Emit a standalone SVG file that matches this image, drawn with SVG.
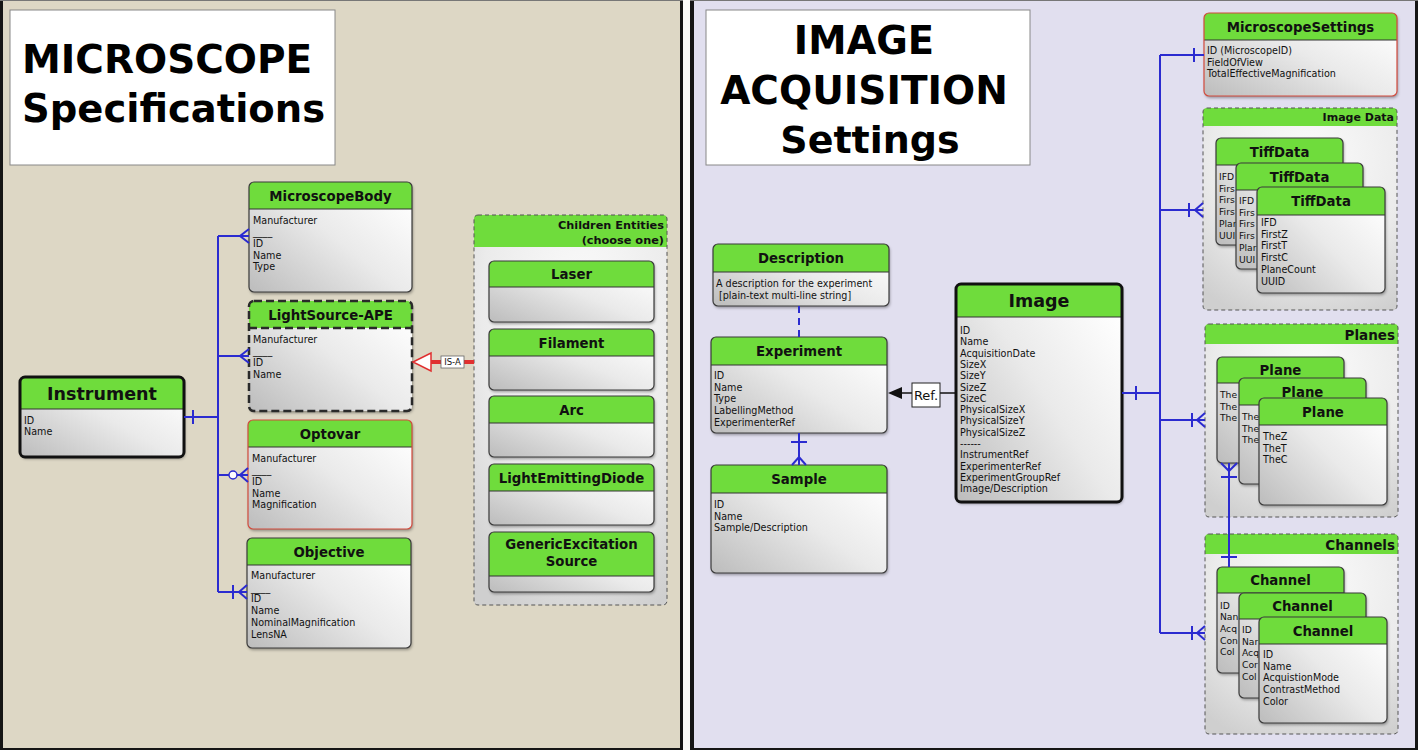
<svg xmlns="http://www.w3.org/2000/svg" width="1418" height="750" viewBox="0 0 1418 750">
<defs>
<linearGradient id="gBody" x1="0" y1="1" x2="1" y2="0.15">
<stop offset="0" stop-color="#bcbcbc"/><stop offset="0.55" stop-color="#eaeaea"/><stop offset="1" stop-color="#ffffff"/>
</linearGradient>
<radialGradient id="gGroup" cx="0.55" cy="0.25" r="0.85">
<stop offset="0" stop-color="#fbfbfb"/><stop offset="0.6" stop-color="#ebebeb"/><stop offset="1" stop-color="#cfcfcf"/>
</radialGradient>
<filter id="sh" x="-10%" y="-10%" width="125%" height="125%">
<feDropShadow dx="1" dy="2" stdDeviation="1.5" flood-color="#000" flood-opacity="0.35"/>
</filter>
<clipPath id="cTD1"><rect x="1216" y="165" width="20" height="80"/></clipPath>
<clipPath id="cTD2"><rect x="1236" y="190" width="21" height="80"/></clipPath>
<clipPath id="cPL1"><rect x="1217" y="383" width="22" height="80"/></clipPath>
<clipPath id="cPL2"><rect x="1239" y="405" width="20" height="80"/></clipPath>
<clipPath id="cCH1"><rect x="1217" y="593" width="22" height="80"/></clipPath>
<clipPath id="cCH2"><rect x="1239" y="619" width="20" height="80"/></clipPath>
</defs>
<style>
.nb{fill:url(#gBody);filter:url(#sh)}
.hdr{fill:#6fdc3c}
.sep{stroke:#333;stroke-width:1}
.bd{fill:none;stroke:#3a3a3a;stroke-width:1.2}
.thick{stroke:#111;stroke-width:3}
.red{stroke:#d24a3c}
.dash{stroke:#2a2a2a;stroke-width:2.5;stroke-dasharray:8 4}
.t{font-family:"DejaVu Sans",sans-serif;font-weight:bold;font-size:13.3px;text-anchor:middle;fill:#111}
.big{font-size:17.5px}
.f{font-family:"DejaVu Sans",sans-serif;font-size:9.6px;fill:#111}
.fs{font-family:"DejaVu Sans",sans-serif;font-size:9.2px;fill:#111}
.gb{fill:url(#gGroup);stroke:none}
.gbd{fill:none;stroke:#555;stroke-width:1;stroke-dasharray:4 3}
.gt{font-family:"DejaVu Sans",sans-serif;font-weight:bold;text-anchor:end;fill:#111}
.title{font-family:"DejaVu Sans",sans-serif;font-weight:bold;fill:#000}
.conn{stroke:#2b2bd0;stroke-width:2;fill:none}
.edge{stroke:#151515;fill:none}
</style>

<rect x="0" y="0" width="1418" height="750" fill="#fbfbf8"/>
<rect x="0" y="0" width="683" height="750" fill="#ddd7c5"/>
<rect x="690" y="0" width="728" height="750" fill="#e1dfef"/>
<path class="edge" stroke-width="3" d="M1.5,0V750M681.5,0V750M1416.5,0V750"/>
<path class="edge" stroke-width="4" d="M692,0V750"/>
<path class="edge" stroke-width="2" d="M0,749H683M690,749H1418"/>
<path stroke="#777" stroke-width="1" d="M0,0.5H683M690,0.5H1418"/>

<g id="title-left">
<rect x="10" y="10" width="325" height="155" fill="#fff" stroke="#888" stroke-width="1"/>
<text class="title" x="22" y="73" font-size="39">MICROSCOPE</text>
<text class="title" x="22" y="122" font-size="38.5">Specifications</text>
</g>
<g id="title-right">
<rect x="706" y="10" width="324" height="155" fill="#fff" stroke="#888" stroke-width="1"/>
<text class="title" x="864" y="54" font-size="38.5" text-anchor="middle">IMAGE</text>
<text class="title" x="864" y="104" font-size="39" text-anchor="middle">ACQUISITION</text>
<text class="title" x="870" y="153" font-size="38" text-anchor="middle">Settings</text>
</g>

<!-- LEFT NODES -->
<g id="instrument">
<rect class="nb" x="20" y="377" width="164" height="80" rx="5"/>
<path class="hdr" d="M20,409V382a5,5 0 0 1 5,-5H179a5,5 0 0 1 5,5V409Z"/>
<line class="sep" x1="20" y1="409" x2="184" y2="409" stroke-width="2.5" stroke="#111"/>
<rect class="bd thick" x="20" y="377" width="164" height="80" rx="5"/>
<text class="t big" x="102" y="399.5">Instrument</text>
<text class="f" x="24" y="423.5">ID</text>
<text class="f" x="24" y="435">Name</text>
</g>

<g id="microscopebody">
<rect class="nb" x="249" y="182" width="163" height="110" rx="5"/>
<path class="hdr" d="M249,209V187a5,5 0 0 1 5,-5H407a5,5 0 0 1 5,5V209Z"/>
<line class="sep" x1="249" y1="209" x2="412" y2="209"/>
<rect class="bd" x="249" y="182" width="163" height="110" rx="5"/>
<text class="t" x="330.5" y="201">MicroscopeBody</text>
<text class="f" x="253" y="223.5">Manufacturer</text>
<text class="f" x="253" y="235.2">____</text>
<text class="f" x="253" y="246.9">ID</text>
<text class="f" x="253" y="258.6">Name</text>
<text class="f" x="253" y="270.3">Type</text>
</g>

<g id="lightsource-ape">
<rect class="nb" x="249" y="301" width="163" height="110" rx="5"/>
<path class="hdr" d="M249,328V306a5,5 0 0 1 5,-5H407a5,5 0 0 1 5,5V328Z"/>
<line class="dash" x1="249" y1="328" x2="412" y2="328"/>
<rect class="bd dash" x="249" y="301" width="163" height="110" rx="5"/>
<text class="t" x="330.5" y="319.5">LightSource-APE</text>
<text class="f" x="253" y="342.5">Manufacturer</text>
<text class="f" x="253" y="354.2">____</text>
<text class="f" x="253" y="365.9">ID</text>
<text class="f" x="253" y="377.6">Name</text>
</g>

<g id="optovar">
<rect class="nb" x="248" y="420" width="164" height="109" rx="5"/>
<path class="hdr" d="M248,447V425a5,5 0 0 1 5,-5H407a5,5 0 0 1 5,5V447Z"/>
<line class="sep" x1="248" y1="447" x2="412" y2="447" stroke="#b0503a"/>
<rect class="bd red" x="248" y="420" width="164" height="109" rx="5"/>
<text class="t" x="330" y="438.5">Optovar</text>
<text class="f" x="252" y="461.5">Manufacturer</text>
<text class="f" x="252" y="473.2">____</text>
<text class="f" x="252" y="484.9">ID</text>
<text class="f" x="252" y="496.6">Name</text>
<text class="f" x="252" y="508.3">Magnification</text>
</g>

<g id="objective">
<rect class="nb" x="247" y="538" width="164" height="110" rx="5"/>
<path class="hdr" d="M247,565V543a5,5 0 0 1 5,-5H406a5,5 0 0 1 5,5V565Z"/>
<line class="sep" x1="247" y1="565" x2="411" y2="565"/>
<rect class="bd" x="247" y="538" width="164" height="110" rx="5"/>
<text class="t" x="329" y="556.5">Objective</text>
<text class="f" x="251" y="579">Manufacturer</text>
<text class="f" x="251" y="590.7">____</text>
<text class="f" x="251" y="602.4">ID</text>
<text class="f" x="251" y="614.1">Name</text>
<text class="f" x="251" y="625.8">NominalMagnification</text>
<text class="f" x="251" y="637.5">LensNA</text>
</g>

<g id="children-entities">
<rect class="gb" x="474" y="215" width="193" height="390" rx="4"/>
<path class="hdr" d="M474,247V219a4,4 0 0 1 4,-4H663a4,4 0 0 1 4,4V247Z"/>
<rect class="gbd" x="474" y="215" width="193" height="390" rx="4"/>
<text class="gt" x="664" y="229" font-size="11.3">Children Entities</text>
<text class="gt" x="664" y="243.5" font-size="11.3">(choose one)</text>
</g>

<g id="laser">
<rect class="nb" x="489" y="261" width="165" height="61" rx="5"/>
<path class="hdr" d="M489,287V266a5,5 0 0 1 5,-5H649a5,5 0 0 1 5,5V287Z"/>
<line class="sep" x1="489" y1="287" x2="654" y2="287"/>
<rect class="bd" x="489" y="261" width="165" height="61" rx="5"/>
<text class="t" x="571.5" y="279">Laser</text>
</g>
<g id="filament">
<rect class="nb" x="489" y="329" width="165" height="61" rx="5"/>
<path class="hdr" d="M489,356V334a5,5 0 0 1 5,-5H649a5,5 0 0 1 5,5V356Z"/>
<line class="sep" x1="489" y1="356" x2="654" y2="356"/>
<rect class="bd" x="489" y="329" width="165" height="61" rx="5"/>
<text class="t" x="571.5" y="347.5">Filament</text>
</g>
<g id="arc">
<rect class="nb" x="489" y="396" width="165" height="61" rx="5"/>
<path class="hdr" d="M489,423V401a5,5 0 0 1 5,-5H649a5,5 0 0 1 5,5V423Z"/>
<line class="sep" x1="489" y1="423" x2="654" y2="423"/>
<rect class="bd" x="489" y="396" width="165" height="61" rx="5"/>
<text class="t" x="571.5" y="414.5">Arc</text>
</g>
<g id="lightemittingdiode">
<rect class="nb" x="489" y="464" width="165" height="61" rx="5"/>
<path class="hdr" d="M489,491V469a5,5 0 0 1 5,-5H649a5,5 0 0 1 5,5V491Z"/>
<line class="sep" x1="489" y1="491" x2="654" y2="491"/>
<rect class="bd" x="489" y="464" width="165" height="61" rx="5"/>
<text class="t" x="571.5" y="482.5">LightEmittingDiode</text>
</g>
<g id="genericexcitationsource">
<rect class="nb" x="489" y="532" width="165" height="60" rx="5"/>
<path class="hdr" d="M489,576V537a5,5 0 0 1 5,-5H649a5,5 0 0 1 5,5V576Z"/>
<line class="sep" x1="489" y1="576" x2="654" y2="576"/>
<rect class="bd" x="489" y="532" width="165" height="60" rx="5"/>
<text class="t" x="571.5" y="549">GenericExcitation</text>
<text class="t" x="571.5" y="566">Source</text>
</g>

<!-- RIGHT NODES -->
<g id="description">
<rect class="nb" x="713" y="244" width="176" height="62" rx="5"/>
<path class="hdr" d="M713,272V249a5,5 0 0 1 5,-5H884a5,5 0 0 1 5,5V272Z"/>
<line class="sep" x1="713" y1="272" x2="889" y2="272"/>
<rect class="bd" x="713" y="244" width="176" height="62" rx="5"/>
<text class="t" x="801" y="263">Description</text>
<text class="f" x="716" y="287">A description for the experiment</text>
<text class="f" x="719" y="298.5">[plain-text multi-line string]</text>
</g>

<g id="experiment">
<rect class="nb" x="711" y="337" width="176" height="96" rx="5"/>
<path class="hdr" d="M711,365V342a5,5 0 0 1 5,-5H882a5,5 0 0 1 5,5V365Z"/>
<line class="sep" x1="711" y1="365" x2="887" y2="365"/>
<rect class="bd" x="711" y="337" width="176" height="96" rx="5"/>
<text class="t" x="799" y="356">Experiment</text>
<text class="f" x="714" y="379">ID</text>
<text class="f" x="714" y="390.7">Name</text>
<text class="f" x="714" y="402.4">Type</text>
<text class="f" x="714" y="414.1">LabellingMethod</text>
<text class="f" x="714" y="425.8">ExperimenterRef</text>
</g>

<g id="sample">
<rect class="nb" x="711" y="465" width="176" height="108" rx="5"/>
<path class="hdr" d="M711,493V470a5,5 0 0 1 5,-5H882a5,5 0 0 1 5,5V493Z"/>
<line class="sep" x1="711" y1="493" x2="887" y2="493"/>
<rect class="bd" x="711" y="465" width="176" height="108" rx="5"/>
<text class="t" x="799" y="484">Sample</text>
<text class="f" x="714" y="508">ID</text>
<text class="f" x="714" y="519.7">Name</text>
<text class="f" x="714" y="531.4">Sample/Description</text>
</g>

<g id="image">
<rect class="nb" x="956" y="284" width="166" height="218" rx="5"/>
<path class="hdr" d="M956,317V289a5,5 0 0 1 5,-5H1117a5,5 0 0 1 5,5V317Z"/>
<line class="sep" x1="956" y1="317" x2="1122" y2="317" stroke-width="2.5" stroke="#111"/>
<rect class="bd thick" x="956" y="284" width="166" height="218" rx="5"/>
<text class="t big" x="1039" y="307">Image</text>
<text class="f" x="960" y="334">ID</text>
<text class="f" x="960" y="345.3">Name</text>
<text class="f" x="960" y="356.6">AcquisitionDate</text>
<text class="f" x="960" y="367.9">SizeX</text>
<text class="f" x="960" y="379.2">SizeY</text>
<text class="f" x="960" y="390.5">SizeZ</text>
<text class="f" x="960" y="401.8">SizeC</text>
<text class="f" x="960" y="413.1">PhysicalSizeX</text>
<text class="f" x="960" y="424.4">PhysicalSizeY</text>
<text class="f" x="960" y="435.7">PhysicalSizeZ</text>
<text class="f" x="960" y="447">------</text>
<text class="f" x="960" y="458.3">InstrumentRef</text>
<text class="f" x="960" y="469.6">ExperimenterRef</text>
<text class="f" x="960" y="480.9">ExperimentGroupRef</text>
<text class="f" x="960" y="492.2">Image/Description</text>
</g>

<g id="microscopesettings">
<rect class="nb" x="1204" y="13" width="193" height="83" rx="5"/>
<path class="hdr" d="M1204,40V18a5,5 0 0 1 5,-5H1392a5,5 0 0 1 5,5V40Z"/>
<line class="sep" x1="1204" y1="40" x2="1397" y2="40" stroke="#b0503a"/>
<rect class="bd red" x="1204" y="13" width="193" height="83" rx="5"/>
<text class="t" x="1300.5" y="31.5">MicroscopeSettings</text>
<text class="f" x="1207" y="54">ID (MicroscopeID)</text>
<text class="f" x="1207" y="65.7">FieldOfView</text>
<text class="f" x="1207" y="77.4">TotalEffectiveMagnification</text>
</g>

<g id="image-data">
<rect class="gb" x="1203" y="108" width="194" height="202" rx="4"/>
<path class="hdr" d="M1203,126V112a4,4 0 0 1 4,-4H1393a4,4 0 0 1 4,4V126Z"/>
<rect class="gbd" x="1203" y="108" width="194" height="202" rx="4"/>
<text class="gt" x="1394" y="121" font-size="11">Image Data</text>
</g>
<g id="tiffdata-1">
<rect class="nb" x="1216" y="138" width="127" height="107" rx="5"/>
<path class="hdr" d="M1216,165V143a5,5 0 0 1 5,-5H1338a5,5 0 0 1 5,5V165Z"/>
<line class="sep" x1="1216" y1="165" x2="1343" y2="165"/>
<rect class="bd" x="1216" y="138" width="127" height="107" rx="5"/>
<text class="t" x="1279.5" y="156.5">TiffData</text>
<g clip-path="url(#cTD1)">
<text class="fs" x="1219" y="180">IFD</text>
<text class="fs" x="1219" y="191.7">Firs</text>
<text class="fs" x="1219" y="203.4">Firs</text>
<text class="fs" x="1219" y="215.1">Firs</text>
<text class="fs" x="1219" y="226.8">Plar</text>
<text class="fs" x="1219" y="238.5">UUI</text>
</g>
</g>
<g id="tiffdata-2">
<rect class="nb" x="1236" y="163" width="127" height="106" rx="5"/>
<path class="hdr" d="M1236,190V168a5,5 0 0 1 5,-5H1358a5,5 0 0 1 5,5V190Z"/>
<line class="sep" x1="1236" y1="190" x2="1363" y2="190"/>
<rect class="bd" x="1236" y="163" width="127" height="106" rx="5"/>
<text class="t" x="1299.5" y="181.5">TiffData</text>
<g clip-path="url(#cTD2)">
<text class="fs" x="1239" y="204">IFD</text>
<text class="fs" x="1239" y="215.7">Firs</text>
<text class="fs" x="1239" y="227.4">Firs</text>
<text class="fs" x="1239" y="239.1">Firs</text>
<text class="fs" x="1239" y="250.8">Plar</text>
<text class="fs" x="1239" y="262.5">UUI</text>
</g>
</g>
<g id="tiffdata-3">
<rect class="nb" x="1257" y="187" width="128" height="106" rx="5"/>
<path class="hdr" d="M1257,215V192a5,5 0 0 1 5,-5H1380a5,5 0 0 1 5,5V215Z"/>
<line class="sep" x1="1257" y1="215" x2="1385" y2="215"/>
<rect class="bd" x="1257" y="187" width="128" height="106" rx="5"/>
<text class="t" x="1321" y="206">TiffData</text>
<text class="f" x="1261" y="226">IFD</text>
<text class="f" x="1261" y="237.7">FirstZ</text>
<text class="f" x="1261" y="249.4">FirstT</text>
<text class="f" x="1261" y="261.1">FirstC</text>
<text class="f" x="1261" y="272.8">PlaneCount</text>
<text class="f" x="1261" y="284.5">UUID</text>
</g>

<g id="planes">
<rect class="gb" x="1205" y="324" width="193" height="193" rx="4"/>
<path class="hdr" d="M1205,344V328a4,4 0 0 1 4,-4H1394a4,4 0 0 1 4,4V344Z"/>
<rect class="gbd" x="1205" y="324" width="193" height="193" rx="4"/>
<text class="gt" x="1395" y="339.5" font-size="13.5">Planes</text>
</g>
<g id="plane-1">
<rect class="nb" x="1217" y="357" width="127" height="106" rx="5"/>
<path class="hdr" d="M1217,383V362a5,5 0 0 1 5,-5H1339a5,5 0 0 1 5,5V383Z"/>
<line class="sep" x1="1217" y1="383" x2="1344" y2="383"/>
<rect class="bd" x="1217" y="357" width="127" height="106" rx="5"/>
<text class="t" x="1280.5" y="375">Plane</text>
<g clip-path="url(#cPL1)">
<text class="fs" x="1220" y="398">The</text>
<text class="fs" x="1220" y="409.7">The</text>
<text class="fs" x="1220" y="421.4">The</text>
</g>
</g>
<g id="plane-2">
<rect class="nb" x="1239" y="378" width="127" height="106" rx="5"/>
<path class="hdr" d="M1239,405V383a5,5 0 0 1 5,-5H1361a5,5 0 0 1 5,5V405Z"/>
<line class="sep" x1="1239" y1="405" x2="1366" y2="405"/>
<rect class="bd" x="1239" y="378" width="127" height="106" rx="5"/>
<text class="t" x="1302.5" y="396.5">Plane</text>
<g clip-path="url(#cPL2)">
<text class="fs" x="1242" y="420">The</text>
<text class="fs" x="1242" y="431.7">The</text>
<text class="fs" x="1242" y="443.4">The</text>
</g>
</g>
<g id="plane-3">
<rect class="nb" x="1259" y="398" width="128" height="107" rx="5"/>
<path class="hdr" d="M1259,425V403a5,5 0 0 1 5,-5H1382a5,5 0 0 1 5,5V425Z"/>
<line class="sep" x1="1259" y1="425" x2="1387" y2="425"/>
<rect class="bd" x="1259" y="398" width="128" height="107" rx="5"/>
<text class="t" x="1323" y="416.5">Plane</text>
<text class="f" x="1263" y="440">TheZ</text>
<text class="f" x="1263" y="451.7">TheT</text>
<text class="f" x="1263" y="463.4">TheC</text>
</g>

<g id="channels">
<rect class="gb" x="1205" y="534" width="193" height="200" rx="4"/>
<path class="hdr" d="M1205,554V538a4,4 0 0 1 4,-4H1394a4,4 0 0 1 4,4V554Z"/>
<rect class="gbd" x="1205" y="534" width="193" height="200" rx="4"/>
<text class="gt" x="1395" y="549.5" font-size="13.5">Channels</text>
</g>
<g id="channel-1">
<rect class="nb" x="1217" y="567" width="127" height="106" rx="5"/>
<path class="hdr" d="M1217,593V572a5,5 0 0 1 5,-5H1339a5,5 0 0 1 5,5V593Z"/>
<line class="sep" x1="1217" y1="593" x2="1344" y2="593"/>
<rect class="bd" x="1217" y="567" width="127" height="106" rx="5"/>
<text class="t" x="1280.5" y="585">Channel</text>
<g clip-path="url(#cCH1)">
<text class="fs" x="1220" y="608.5">ID</text>
<text class="fs" x="1220" y="620.2">Nan</text>
<text class="fs" x="1220" y="631.9">Acq</text>
<text class="fs" x="1220" y="643.6">Con</text>
<text class="fs" x="1220" y="655.3">Col</text>
</g>
</g>
<g id="channel-2">
<rect class="nb" x="1239" y="593" width="127" height="105" rx="5"/>
<path class="hdr" d="M1239,619V598a5,5 0 0 1 5,-5H1361a5,5 0 0 1 5,5V619Z"/>
<line class="sep" x1="1239" y1="619" x2="1366" y2="619"/>
<rect class="bd" x="1239" y="593" width="127" height="105" rx="5"/>
<text class="t" x="1302.5" y="611">Channel</text>
<g clip-path="url(#cCH2)">
<text class="fs" x="1242" y="633">ID</text>
<text class="fs" x="1242" y="644.7">Nar</text>
<text class="fs" x="1242" y="656.4">Acq</text>
<text class="fs" x="1242" y="668.1">Cor</text>
<text class="fs" x="1242" y="679.8">Col</text>
</g>
</g>
<g id="channel-3">
<rect class="nb" x="1259" y="617" width="128" height="106" rx="5"/>
<path class="hdr" d="M1259,644V622a5,5 0 0 1 5,-5H1382a5,5 0 0 1 5,5V644Z"/>
<line class="sep" x1="1259" y1="644" x2="1387" y2="644"/>
<rect class="bd" x="1259" y="617" width="128" height="106" rx="5"/>
<text class="t" x="1323" y="635.5">Channel</text>
<text class="f" x="1263" y="658">ID</text>
<text class="f" x="1263" y="669.7">Name</text>
<text class="f" x="1263" y="681.4">AcquistionMode</text>
<text class="f" x="1263" y="693.1">ContrastMethod</text>
<text class="f" x="1263" y="704.8">Color</text>
</g>

<!-- CONNECTORS -->
<g id="connectors">
<path class="conn" d="M184,417H218M218,236V592M218,236H249M218,356H249M218,475H229M237,475H248M218,592H247"/>
<path class="conn" d="M193,410V424M233,585V599"/>
<path class="conn" stroke-width="1.5" d="M249,229L240,236L249,243M249,349L240,356L249,363M248,468L240,475L248,482M247,585L239,592L247,599"/>
<circle cx="233" cy="475" r="4" fill="#fff" stroke="#2b2bd0" stroke-width="1.5"/>

<path d="M474,362H430" stroke="#e03030" stroke-width="4" fill="none"/>
<polygon points="413,362 431,353 431,371" fill="#fff" stroke="#e03030" stroke-width="1.5"/>
<rect x="441" y="356" width="23" height="12" fill="#fff" stroke="#666" stroke-width="0.8"/>
<text x="452.5" y="365" font-family="DejaVu Sans, sans-serif" font-size="8.5" text-anchor="middle" fill="#111">IS-A</text>

<path class="conn" d="M799,306V337" stroke-dasharray="7 5"/>
<path class="conn" d="M799,433V465M791,442H807"/>
<path class="conn" stroke-width="1.5" d="M792,465L799,457L806,465"/>

<path d="M956,393H900" stroke="#111" stroke-width="1.5" fill="none"/>
<polygon points="888,393 902,387 902,399" fill="#111"/>
<rect x="912" y="383" width="28" height="24" fill="#fff" stroke="#222" stroke-width="1"/>
<text x="926" y="400" font-family="DejaVu Sans, sans-serif" font-size="13" text-anchor="middle" fill="#111">Ref.</text>

<path class="conn" d="M1122,393H1160M1160,55V633M1160,55H1204M1160,210H1203M1160,420H1205M1160,633H1205"/>
<path class="conn" d="M1136,386V400M1194,48V62M1189,203V217M1192,413V427M1192,626V640"/>
<path class="conn" stroke-width="1.5" d="M1203,203L1195,210L1203,217M1205,413L1197,420L1205,427M1205,626L1197,633L1205,640"/>
<path class="conn" d="M1229,463V567M1221,477H1237M1221,557H1237"/>
<path class="conn" stroke-width="1.5" d="M1221,463L1229,471L1237,463"/>
</g>
</svg>
